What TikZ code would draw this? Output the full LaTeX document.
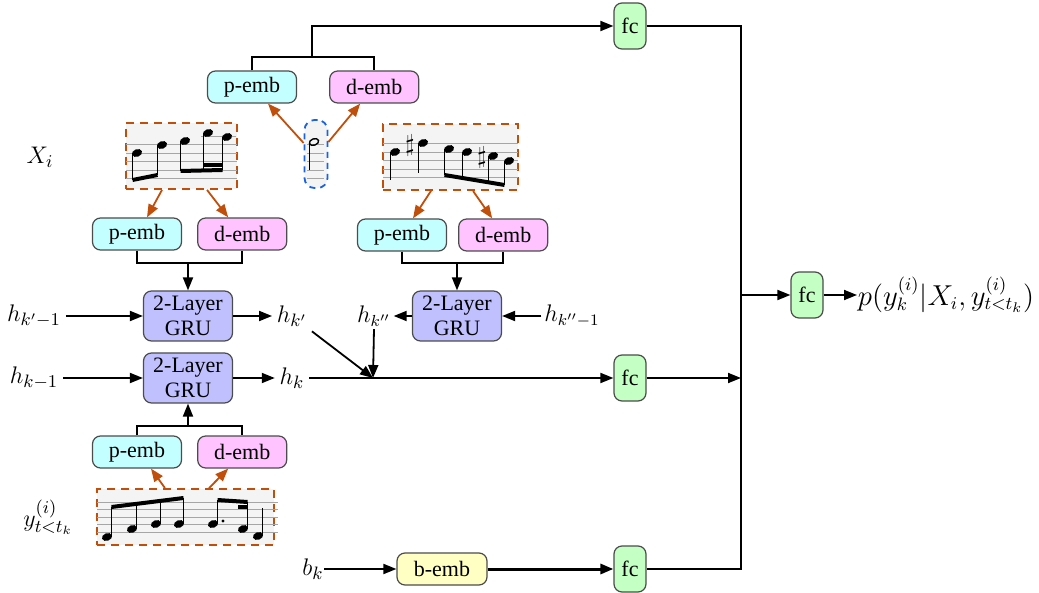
\documentclass[tikz,border=0pt]{standalone}
\usepackage{fontspec}
\setmainfont{Liberation Serif}
\usetikzlibrary{arrows.meta,positioning}
\definecolor{pcol}{HTML}{C4FFFF}
\definecolor{dcol}{HTML}{FFC4FF}
\definecolor{gcol}{HTML}{C0C0FF}
\definecolor{fcol}{HTML}{C4FFC4}
\definecolor{bcol}{HTML}{FFFFC4}
\definecolor{ocol}{HTML}{C04F0B}
\definecolor{ncol}{HTML}{1A62E0}
\definecolor{scol}{HTML}{F4F4F4}

\begin{document}
\begin{tikzpicture}[x=0.5pt, y=-0.5pt, line width=0.9pt,
    >={Triangle[length=6.5pt, width=5pt]},
    blk/.style={draw=black!70, line width=0.6pt, rounded corners=4pt, inner sep=0pt,
                font=\fontsize{11}{12}\selectfont},
    pemb/.style={blk, fill=pcol, minimum width=44.5pt, minimum height=16pt},
    demb/.style={blk, fill=dcol, minimum width=44.5pt, minimum height=16pt},
    gru/.style={blk, fill=gcol, minimum width=44.5pt, minimum height=25pt, align=center,
                font=\fontsize{11}{12.5}\selectfont},
    fcbox/.style={blk, fill=fcol, minimum width=16pt, minimum height=23pt},
    lab/.style={inner sep=2pt, font=\fontsize{13}{15}\selectfont},
    score/.style={draw=ocol, dash pattern=on 4pt off 3pt, fill=scol, line width=0.9pt, inner sep=0pt},
    staff/.style={black!35, line width=0.5pt},
    oarr/.style={->, draw=ocol, line width=0.9pt}]
  \useasboundingbox (0,0) rectangle (1039,593);

  % note embeddings of the current note
  \node[pemb] (pT) at (252,87) {p-emb};
  \node[demb, right=16pt of pT] (dT) {d-emb};
  \node[draw=ncol, dash pattern=on 3pt off 2.5pt, rounded corners=5pt, fill=scol,
        line width=0.9pt, minimum width=11.5pt, minimum height=34pt, inner sep=0pt] (noteM) at (316,154) {};

  % score excerpts
  \node[lab] (xi) at (40,157) {$X_i$};
  \node[score, minimum width=55.5pt, minimum height=33pt] (scL) at (181.5,156) {};
  \node[score, minimum width=67.5pt, minimum height=33pt] (scR) at (450.5,157) {};
  \node[lab] (yl) at (48,517) {$y^{(i)}_{t<t_k}$};
  \node[score, minimum width=88.5pt, minimum height=28pt] (scY) at (185.5,517) {};

  % left excerpt
  \foreach \y in {145,153.5,162,170.5,179} \draw[staff] (126,\y) -- (237,\y);
  \draw[staff] (201,137) -- (236,137);
  \foreach \x/\y in {137/153, 162/145, 185/141, 208/133, 227/137}
    \fill[rotate around={20:(\x,\y)}] (\x,\y) ellipse [x radius=2.6pt, y radius=1.9pt];
  \foreach \x/\a/\b in {132.5/153/180, 157.5/145/175.5, 180.5/141/171, 203.5/133/170, 222.5/137/170}
    \draw[line width=0.6pt] (\x,\a) -- (\x,\b);
  \draw[line width=2pt] (132.5,180) -- (157.5,175);
  \draw[line width=2pt] (180.5,171) -- (222.5,170);
  \draw[line width=2pt] (203.5,165.5) -- (222.5,165.5);

  % single note
  \foreach \y in {145,153.5,162,170.5,179} \draw[staff] (307,\y) -- (324,\y);
  \draw[line width=0.7pt, rotate around={20:(314,142)}] (314,142) ellipse [x radius=2.4pt, y radius=1.6pt];
  \draw[line width=0.6pt] (309.5,143) -- (309.5,170);

  % right excerpt
  \foreach \y in {144,152.5,161,169.5,178} \draw[staff] (383,\y) -- (518,\y);
  \foreach \x/\y in {395/152, 423/143, 449/149, 467/152, 493/156, 509/161}
    \fill[rotate around={20:(\x,\y)}] (\x,\y) ellipse [x radius=2.6pt, y radius=1.9pt];
  \foreach \x/\a/\b in {390.5/152/180, 418.5/143/173, 444.5/149/175, 462.5/152/178, 488.5/156/182.3, 504.5/161/185}
    \draw[line width=0.6pt] (\x,\a) -- (\x,\b);
  \draw[line width=2pt] (444.5,175) -- (504.5,185);
  \node[inner sep=0pt, font=\fontsize{12}{12}\selectfont] (sh1) at (410,146) {$\sharp$};
  \node[inner sep=0pt, font=\fontsize{12}{12}\selectfont] (sh2) at (482,158) {$\sharp$};

  % target excerpt
  \foreach \y in {502,509.5,517,524.5,532} \draw[staff] (97,\y) -- (278,\y);
  \foreach \x/\y in {107/537, 132/529, 156/524, 179/524, 213/524, 243/529, 258/536}
    \fill[rotate around={20:(\x,\y)}] (\x,\y) ellipse [x radius=2.6pt, y radius=1.9pt];
  \foreach \x/\a/\b in {111.5/537/507, 136.5/529/504, 160.5/524/501, 183.5/524/498, 217.5/524/500, 247.5/529/502, 262.5/536/508}
    \draw[line width=0.6pt] (\x,\a) -- (\x,\b);
  \draw[line width=2pt] (111.5,507) -- (183.5,498);
  \draw[line width=2pt] (217.5,500) -- (247.5,502);
  \draw[line width=2pt] (238,507) -- (247.5,507);
  \fill (223,521) circle (0.8pt);

  % embeddings and GRUs
  \node[pemb] (pL) at (137,234) {p-emb};
  \node[demb, right=7.5pt of pL] (dL) {d-emb};
  \node[pemb] (pR) at (402,235) {p-emb};
  \node[demb, right=5.5pt of pR] (dR) {d-emb};
  \node[pemb] (pY) at (137,452) {p-emb};
  \node[demb, right=7.5pt of pY] (dY) {d-emb};

  \node[gru] (gruA) at (188,316) {2-Layer\\GRU};
  \node[gru] (gruB) at (188,378) {2-Layer\\GRU};
  \node[gru] (gruR) at (457,316) {2-Layer\\GRU};

  \node[lab] (hA1) at (34,316) {$h_{k'-1}$};
  \node[lab] (hB1) at (34,378) {$h_{k-1}$};
  \node[lab] (hA) at (292,316) {$h_{k'}$};
  \node[lab] (hB) at (292,378) {$h_k$};
  \node[lab, inner sep=1pt, font=\fontsize{12}{14}\selectfont] (hR) at (374,316) {$h_{k''}$};
  \node[lab, inner sep=1pt, font=\fontsize{12}{14}\selectfont] (hR1) at (572,316) {$h_{k''-1}$};

  \node[lab, inner sep=0pt] (bk) at (313,569) {$b_k$};
  \node[blk, fill=bcol, minimum width=45pt, minimum height=16pt] (bemb) at (442,569) {b-emb};

  \node[fcbox] (fcT) at (630,26) {fc};
  \node[fcbox] (fcM) at (630,378) {fc};
  \node[fcbox] (fcB) at (630,569) {fc};
  \node[fcbox] (fcO) at (807,295) {fc};
  \node[lab, anchor=west, inner sep=0pt, font=\fontsize{13.5}{15}\selectfont] (out) at (857,295)
    {$p(y^{(i)}_k|X_i,y^{(i)}_{t<t_k})$};

  \coordinate (mT) at (312,57);
  \coordinate (mL) at (188,263);
  \coordinate (mR) at (457,263);
  \coordinate (mY) at (188,426);
  \coordinate (jn) at (373,378);
  \coordinate (busT) at (741,26);
  \coordinate (busB) at (741,569);

  % embedding arrows
  \draw[oarr] ([yshift=5.5pt]noteM.west) -- ([xshift=8pt]pT.south);
  \draw[oarr] ([yshift=6pt]noteM.east) -- ([xshift=-7pt]dT.south);
  \draw[oarr] ([xshift=-9.75pt]scL.south) -- ([xshift=5pt]pL.north);
  \draw[oarr] ([xshift=12.75pt]scL.south) -- ([xshift=-7pt]dL.north);
  \draw[oarr] ([xshift=-9.75pt]scR.south) -- ([xshift=5.5pt]pR.north);
  \draw[oarr] ([xshift=11.25pt]scR.south) -- ([xshift=-5.5pt]dR.north);
  \draw[oarr] ([xshift=-10.25pt]scY.north) -- ([xshift=7pt]pY.south);
  \draw[oarr] ([xshift=11.75pt]scY.north) -- ([xshift=-7pt]dY.south);

  \draw (pT.north) |- (mT) -| (dT.north);
  \draw[->] (mT) |- (fcT.west);
  \draw (pL.south) |- (mL) -| (dL.south);
  \draw[->] (mL) -- (gruA.north);
  \draw (pR.south) |- (mR) -| (dR.south);
  \draw[->] (mR) -- (gruR.north);
  \draw (pY.north) |- (mY) -| (dY.north);
  \draw[->] (mY) -- (gruB.south);

  % hidden states
  \draw[->] (hA1.east) -- (gruA.west);
  \draw[->] (hB1.east) -- (gruB.west);
  \draw[->] (gruA.east) -- (hA.west);
  \draw[->] (gruB.east) -- (hB.west);
  \draw[->] (gruR.west) -- (hR.east);
  \draw[->] (hR1.west) -- (gruR.east);
  \draw[->] (hR.south) -- (jn);
  \draw[->] (hA.south east) -- (jn);
  \draw[->] (hB.east) -- (fcM.west);

  % output
  \draw[->] (fcM.east) -- (fcM.east -| busT);
  \draw (fcT.east) -- (busT) -- (busB) -- (fcB.east);
  \draw[->] (fcO.west -| busT) -- (fcO.west);
  \draw[->] (fcO.east) -- (fcO.east -| out.west);
  \draw[->] (bk.east) -- (bemb.west);
  \draw[->, line width=1.5pt] (bemb.east) -- (fcB.west);
\end{tikzpicture}
\end{document}
